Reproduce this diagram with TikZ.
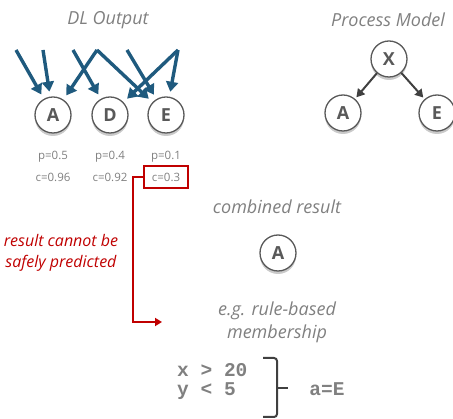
\documentclass[tikz,border=0pt]{standalone}
\usepackage{fontspec}
\setmainfont{Open Sans}
\newfontfamily\codefont{Liberation Mono}
\usetikzlibrary{arrows.meta,shadows}
\definecolor{txtgray}{HTML}{808080}
\definecolor{circgray}{HTML}{595959}
\definecolor{dlblue}{HTML}{1F5A7E}
\definecolor{alertred}{HTML}{C00000}
\definecolor{darkline}{HTML}{404040}
\tikzset{
  lbl/.style={text=txtgray, font=\fontsize{18}{21}\selectfont\itshape, inner sep=0pt},
  redlbl/.style={text=alertred, font=\fontsize{16}{21}\selectfont\itshape, align=center, inner sep=0pt},
  val/.style={text=txtgray, font=\fontsize{11.5}{13}\selectfont, inner sep=0pt},
  circ/.style={circle, draw=circgray, line width=1.3pt, fill=white, minimum size=36pt, inner sep=0pt,
    text=circgray, font=\fontsize{18}{20}\selectfont\bfseries,
    drop shadow={shadow xshift=0pt, shadow yshift=-3pt, opacity=0.35, fill=black!60}},
  dlarrow/.style={draw=dlblue, line width=3.4pt, -{Triangle[length=10pt,width=12pt]}, shorten >=5pt},
  pmarrow/.style={draw=darkline, line width=2pt, -{Triangle[length=8pt,width=9pt]}, shorten >=2pt},
  redarrow/.style={draw=alertred, line width=2pt, -{Triangle[length=7pt,width=8pt]}},
  redbox/.style={draw=alertred, line width=2pt, minimum width=44pt, minimum height=22pt, inner sep=0pt},
  code/.style={text=txtgray, font=\fontsize{19.5}{21}\selectfont\codefont\bfseries, inner sep=0pt},
  bracestyle/.style={draw=darkline, line width=2pt, rounded corners=3pt},
}
\begin{document}
\begin{tikzpicture}[x=1pt,y=-1pt]
\useasboundingbox (0,0) rectangle (453,419);
% titles
\node[lbl] (dltitle) at (108,20) {DL Output};
\node[lbl] (pmtitle) at (388,20) {Process Model};
% DL output nodes
\node[circ] (A) at (53,115) {A};
\node[circ] (D) at (110,115) {D};
\node[circ] (E) at (166,115) {E};
% source coordinates
\coordinate (s1) at (16,50);
\coordinate (s2) at (43,50);
\coordinate (s3) at (73,50);
\coordinate (s4) at (97,50);
\coordinate (s5) at (127,50);
\coordinate (s6) at (178,50);
\draw[dlarrow] (s1) -- (A);
\draw[dlarrow] (s2) -- (A);
\draw[dlarrow] (s4) -- (A);
\draw[dlarrow] (s4) -- (E);
\draw[dlarrow] (s3) -- (D);
\draw[dlarrow] (s5) -- (E);
\draw[dlarrow] (s6) -- (D);
\draw[dlarrow] (s6) -- (E);
% values
\node[val] (pA) at (53,157) {p=0.5};
\node[val] (cA) at (53,177) {c=0.96};
\node[val] (pD) at (110,157) {p=0.4};
\node[val] (cD) at (110,177) {c=0.92};
\node[val] (pE) at (166,157) {p=0.1};
\node[val, redbox] (cE) at (166,177) {c=0.3};
% red path
\coordinate (rbend) at (133,322);
\coordinate (rend) at (162,322);
\draw[redarrow] (cE.west) -| (rbend) -- (rend);
\node[redlbl] (rtext) at (61,252.5) {result cannot be\\safely predicted};
% process model
\node[circ] (X) at (389,59) {X};
\node[circ] (PA) at (343,113) {A};
\node[circ] (PE) at (437,113) {E};
\draw[pmarrow] (X) -- (PA);
\draw[pmarrow] (X) -- (PE);
% combined result
\node[lbl] (combt) at (277,207) {combined result};
\node[circ] (RA) at (278,253) {A};
\node[lbl, align=center, font=\fontsize{18}{23}\selectfont\itshape] (rule) at (277,322.5) {e.g. rule-based\\membership};
% rules
\node[code, anchor=west] (r1) at (177,370) {x > 20};
\node[code, anchor=west] (r2) at (177,391) {y < 5};
\draw[bracestyle] (263,358) -- (277,358) -- (277,417) -- (263,417);
\draw[draw=darkline, line width=2pt] (277,388) -- (288,388);
\node[code] (res) at (327,389) {a=E};
\end{tikzpicture}
\end{document}
